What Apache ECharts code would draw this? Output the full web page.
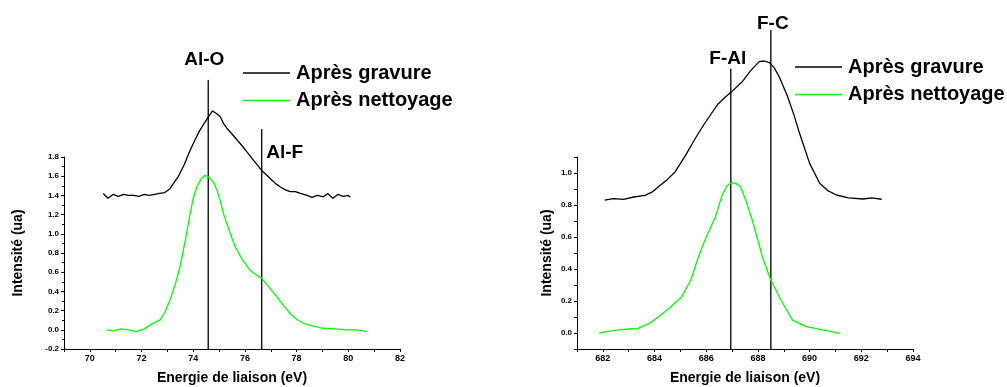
<!DOCTYPE html>
<html>
<head>
<meta charset="utf-8">
<script src="https://cdn.jsdelivr.net/npm/echarts@6/dist/echarts.min.js"></script>
<style>
  html, body { margin: 0; padding: 0; background: #fff; }
  #chart { width: 1007px; height: 387px; }
</style>
</head>
<body>
<div id="chart"></div>
<script>
// Left panel: Al 2p
var alGravureX = [70.52, 70.7, 70.9, 71.1, 71.3, 71.5, 71.7, 71.9, 72.1, 72.3, 72.5, 72.7, 72.9, 73.1, 73.25, 73.42, 73.65, 73.88, 74.07, 74.26, 74.45, 74.59, 74.75, 74.91, 75.05, 75.17, 75.3, 75.5, 75.69, 75.88, 76.07, 76.35, 76.65, 76.85, 77.04, 77.2, 77.36, 77.55, 77.75, 77.95, 78.15, 78.4, 78.6, 78.8, 79.04, 79.2, 79.4, 79.6, 79.8, 80.0, 80.08];
var alGravureY = [1.42, 1.37, 1.41, 1.39, 1.41, 1.40, 1.40, 1.39, 1.41, 1.40, 1.41, 1.42, 1.43, 1.47, 1.53, 1.595, 1.72, 1.87, 1.98, 2.08, 2.16, 2.22, 2.28, 2.25, 2.22, 2.15, 2.10, 2.04, 1.98, 1.92, 1.855, 1.76, 1.66, 1.61, 1.56, 1.52, 1.49, 1.46, 1.44, 1.44, 1.42, 1.40, 1.38, 1.40, 1.385, 1.42, 1.37, 1.41, 1.39, 1.40, 1.38];
var alNettoyageX = [70.65, 70.9, 71.2, 71.5, 71.8, 72.1, 72.45, 72.71, 72.9, 73.1, 73.3, 73.49, 73.7, 73.88, 74.0, 74.14, 74.3, 74.46, 74.65, 74.8, 74.91, 75.05, 75.17, 75.4, 75.62, 75.9, 76.2, 76.45, 76.65, 76.95, 77.23, 77.5, 77.75, 78.0, 78.27, 78.6, 79.04, 79.5, 79.9, 80.34, 80.72];
var alNettoyageY = [0.0, -0.01, 0.01, 0.0, -0.02, 0.01, 0.07, 0.10, 0.18, 0.31, 0.47, 0.657, 0.94, 1.21, 1.37, 1.49, 1.57, 1.61, 1.58, 1.53, 1.46, 1.34, 1.21, 1.03, 0.866, 0.73, 0.62, 0.57, 0.536, 0.44, 0.345, 0.25, 0.17, 0.11, 0.068, 0.04, 0.016, 0.01, 0.0, 0.0, -0.02];
var alRefNames = ['Al-O', 'Al-F'];
var alRefX = [74.58, 76.65];
var alRefTop = [2.6, 2.09];

// Right panel: F 1s
var fGravureX = [682.07, 682.4, 682.8, 683.2, 683.63, 683.9, 684.15, 684.5, 684.8, 685.2, 685.58, 685.9, 686.16, 686.45, 686.75, 687.0, 687.39, 687.72, 688.05, 688.25, 688.44, 688.62, 688.83, 689.15, 689.4, 689.61, 690.0, 690.39, 690.7, 691.04, 691.5, 692.07, 692.4, 692.79];
var fGravureY = [0.83, 0.84, 0.835, 0.85, 0.86, 0.88, 0.914, 0.96, 1.008, 1.11, 1.217, 1.30, 1.3625, 1.43, 1.477, 1.51, 1.57, 1.64, 1.696, 1.70, 1.69, 1.66, 1.60, 1.477, 1.36, 1.248, 1.06, 0.936, 0.89, 0.8625, 0.845, 0.8375, 0.845, 0.836];
var fNettoyageX = [681.87, 682.2, 682.6, 683.0, 683.37, 683.8, 684.15, 684.6, 685.05, 685.4, 685.7, 686.0, 686.36, 686.61, 686.8, 687.0, 687.15, 687.33, 687.55, 687.78, 688.0, 688.17, 688.5, 688.89, 689.34, 689.87, 690.5, 691.17];
var fNettoyageY = [0.0, 0.01, 0.02, 0.025, 0.029, 0.06, 0.10, 0.16, 0.227, 0.33, 0.477, 0.60, 0.727, 0.86, 0.92, 0.94, 0.935, 0.914, 0.82, 0.706, 0.58, 0.477, 0.33, 0.206, 0.081, 0.04, 0.02, -0.002];
var fRefNames = ['F-Al', 'F-C'];
var fRefX = [686.95, 688.5];
var fRefTop = [1.65, 1.89];

var seriesNames = ['Après gravure', 'Après nettoyage'];

const chart = echarts.init(document.getElementById('chart'));

function pairs(xs, ys) {
    return xs.map((x, i) => [x, ys[i]]);
}

var FONT = 'Liberation Sans, Arial, sans-serif';

function xAxisFor(grid, min, max) {
    return {
        type: 'value', gridIndex: grid, min: min, max: max, interval: 1,
        name: 'Energie de liaison (eV)', nameLocation: 'middle', nameGap: 22,
        nameTextStyle: { fontFamily: FONT, fontWeight: 'bold', fontSize: 14, color: '#000' },
        axisLine: { onZero: false, lineStyle: { color: '#000', width: 1 } },
        axisTick: { length: 3, lineStyle: { color: '#000' } },
        axisLabel: {
            fontFamily: FONT, fontWeight: 'bold', fontSize: 9, color: '#000', margin: 5,
            formatter: v => (Math.round(v) % 2 === 0 ? String(v) : '')
        },
        splitLine: { show: false }
    };
}

function yAxisFor(grid, min, max, interval, minor, gap, fmt) {
    var ax = {
        type: 'value', gridIndex: grid, min: min, max: max, interval: interval,
        name: 'Intensité (ua)', nameLocation: 'middle', nameRotate: 90, nameGap: gap,
        nameTextStyle: { fontFamily: FONT, fontWeight: 'bold', fontSize: 14, color: '#000' },
        axisLine: { show: true, onZero: false, lineStyle: { color: '#000', width: 1 } },
        axisTick: { show: true, length: 3, lineStyle: { color: '#000' } },
        axisLabel: { fontFamily: FONT, fontWeight: 'bold', fontSize: 8, color: '#000', margin: 5, formatter: fmt },
        splitLine: { show: false }
    };
    if (minor) ax.minorTick = { show: true, splitNumber: 2, length: 2, lineStyle: { color: '#000' } };
    return ax;
}

// vertical reference lines with their bond labels at the top end
function refSeries(grid, names, xs, tops, bottom, labelCfg) {
    return names.map((n, i) => ({
        type: 'line', xAxisIndex: grid, yAxisIndex: grid, clip: false,
        symbol: 'circle', symbolSize: 1, showSymbol: true, silent: true,
        itemStyle: { color: '#000' },
        lineStyle: { color: '#000', width: 1.3 },
        data: [
            { value: [xs[i], bottom], label: { show: false } },
            {
                value: [xs[i], tops[i]],
                label: Object.assign({
                    show: true, formatter: n, color: '#000',
                    fontFamily: FONT, fontWeight: 'bold', fontSize: 19
                }, labelCfg[i])
            }
        ]
    }));
}

function curve(grid, name, xs, ys, color) {
    return {
        type: 'line', name: name, xAxisIndex: grid, yAxisIndex: grid, clip: false,
        symbol: 'none', smooth: false,
        lineStyle: { color: color, width: 1.3 }, itemStyle: { color: color },
        data: pairs(xs, ys)
    };
}

var legendBase = {
    orient: 'vertical', data: seriesNames, icon: 'rect', itemWidth: 47, itemHeight: 1.3, itemGap: 7.5,
    padding: 0, selectedMode: false,
    textStyle: { fontFamily: FONT, fontWeight: 'bold', fontSize: 20, color: '#000', padding: [0, 0, 0, 1] }
};

var option = {
    animation: false,
    backgroundColor: '#fff',
    grid: [
        { left: 64, right: 607, top: 157, bottom: 38 },
        { left: 577, right: 94, top: 157, bottom: 38 }
    ],
    legend: [
        Object.assign({ left: 243, top: 63 }, legendBase),
        Object.assign({ left: 795, top: 57 }, legendBase)
    ],
    xAxis: [xAxisFor(0, 69, 82), xAxisFor(1, 681, 694)],
    yAxis: [
        yAxisFor(0, -0.2, 1.8, 0.2, true, 39, v => v.toFixed(1)),
        yAxisFor(1, -0.1, 1.1, 0.1, false, 23,
            v => (Math.round(v * 10) % 2 === 0 && v >= 0 ? v.toFixed(1) : ''))
    ],
    series: [].concat(
        refSeries(0, alRefNames, alRefX, alRefTop, -0.2, [
            { position: 'top', distance: 10, offset: [-4, 0] },
            { position: 'right', distance: 4, offset: [0, 24] }
        ]),
        refSeries(1, fRefNames, fRefX, fRefTop, -0.1, [
            { position: 'top', distance: 0, offset: [-3, 0] },
            { position: 'top', distance: -3, offset: [2, 0] }
        ]),
        [
            curve(0, seriesNames[0], alGravureX, alGravureY, '#000000'),
            curve(0, seriesNames[1], alNettoyageX, alNettoyageY, '#00ff00'),
            curve(1, seriesNames[0], fGravureX, fGravureY, '#000000'),
            curve(1, seriesNames[1], fNettoyageX, fNettoyageY, '#00ff00')
        ]
    )
};

option && chart.setOption(option);
</script>
</body>
</html>
